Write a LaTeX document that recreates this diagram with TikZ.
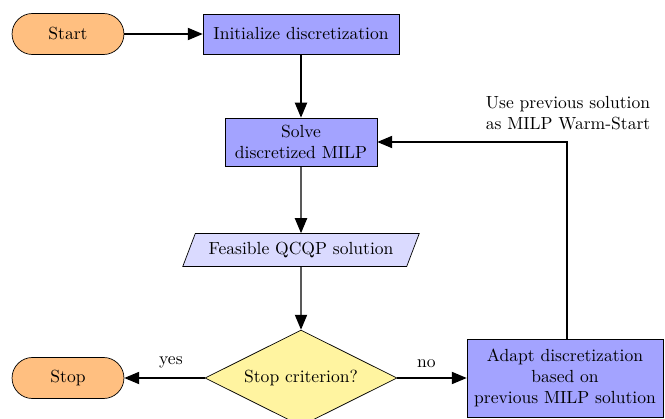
\documentclass[tikz,border=0pt]{standalone}
\usetikzlibrary{arrows.meta}
\usetikzlibrary{shapes.geometric}
\usetikzlibrary{positioning}

\definecolor{termcol}{RGB}{255,191,128}
\definecolor{proccol}{RGB}{163,163,255}
\definecolor{datacol}{RGB}{218,218,255}
\definecolor{deccol}{RGB}{255,244,160}

\tikzset{
  terminal/.style={draw, fill=termcol, rounded corners=11.7pt, minimum width=63.8pt, minimum height=23.4pt},
  process/.style={draw, fill=proccol, align=center, inner xsep=2pt},
  iodata/.style={draw, fill=datacol, trapezium, trapezium left angle=67, trapezium right angle=113,
    trapezium stretches=true, minimum width=135pt, minimum height=18.8pt},
  decision/.style={draw, fill=deccol, diamond, aspect=2, inner sep=0pt, minimum width=109.4pt, minimum height=54.7pt},
  flow/.style={-{Triangle[length=8.5pt, width=7pt]}, line width=0.6pt}
}

\begin{document}
\begin{tikzpicture}[x=0.57pt, y=-0.57pt]
        \useasboundingbox (0,0) rectangle (665,419);
        \node [terminal] (start) at (68,34) {Start};
        \node [process, minimum width=111.7pt, minimum height=22.8pt] (init) at (301,34) {Initialize discretization};
        \node [process, minimum width=86.6pt, minimum height=27.4pt] (solve) at (301,142) {Solve\\discretized MILP};
        \node [iodata] (feas) at (301,250) {Feasible QCQP solution};
        \node [decision] (crit) at (301,378) {Stop criterion?};
        \node [terminal] (stop) at (68,378) {Stop};
        \node [process, minimum width=111.7pt, minimum height=44.5pt] (adapt) at (565,378) {Adapt discretization\\based on\\previous MILP solution};
        \coordinate (corner) at (567,142);
        \node [align=center] (warm) at (568,113) {Use previous solution\\as MILP Warm-Start};
        \draw [flow] (start) -- (init);
        \draw [flow] (init) -- (solve);
        \draw [flow] (solve) -- (feas);
        \draw [flow] (feas) -- (crit);
        \draw [flow] (crit) -- node [above=2pt, pos=0.42] {yes} (stop);
        \draw [flow] (crit) -- node [above=2pt, pos=0.42] {no} (adapt);
        \draw [flow] (adapt.north -| corner) -- (corner) -- (solve);
      \end{tikzpicture}
\end{document}
